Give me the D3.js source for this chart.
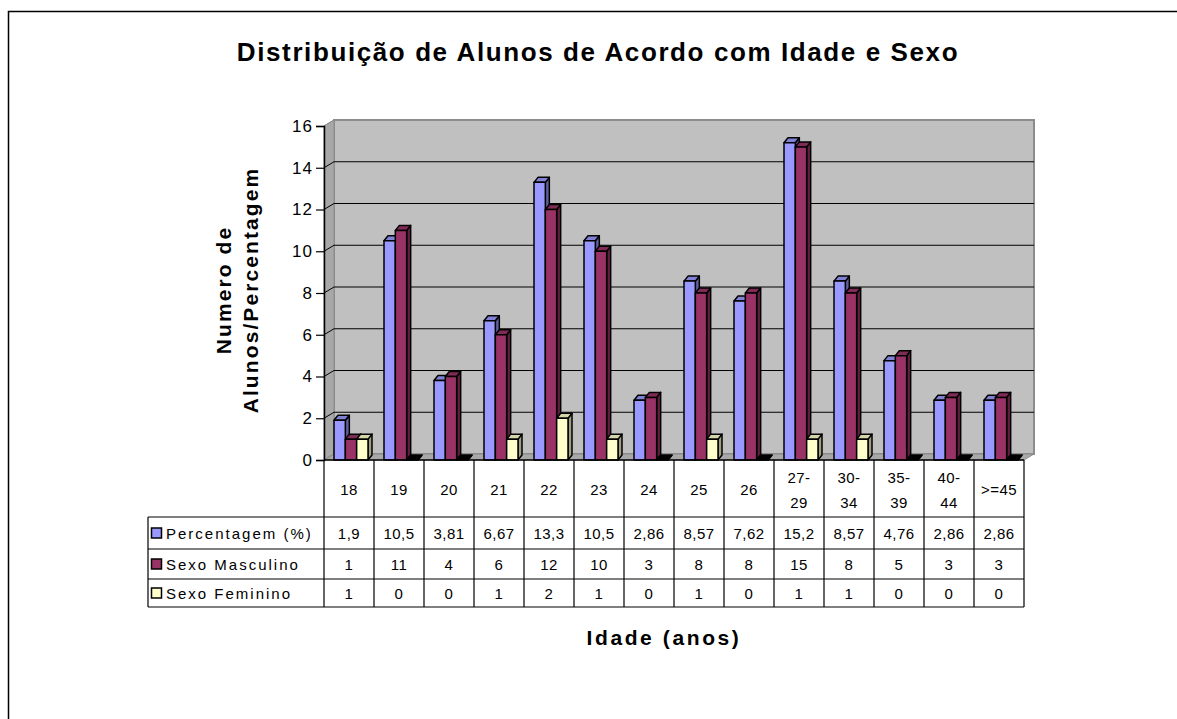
<!DOCTYPE html>
<html>
<head>
<meta charset="utf-8">
<script src="https://cdn.jsdelivr.net/npm/d3@7"></script>
<style>
  body { margin: 0; background: #fff; }
  svg { display: block; font-family: "Liberation Sans", Arial, sans-serif; }
</style>
</head>
<body>
<div id="chart"></div>
<script>
// data
var categories = ["18","19","20","21","22","23","24","25","26","27-29","30-34","35-39","40-44",">=45"];
var percentagem = [1.9,10.5,3.81,6.67,13.3,10.5,2.86,8.57,7.62,15.2,8.57,4.76,2.86,2.86];
var masculino = [1,11,4,6,12,10,3,8,8,15,8,5,3,3];
var feminino = [1,0,0,1,2,1,0,1,0,1,1,0,0,0];
var yTicks = [0,2,4,6,8,10,12,14,16];

var series = [
  {name: "Percentagem (%)", values: percentagem, color: "#9999FF"},
  {name: "Sexo Masculino", values: masculino, color: "#993366"},
  {name: "Sexo Feminino", values: feminino, color: "#FFFFCC"}
];

var W = 1177, H = 719;
var dx = 10, dy = -6;     // depth of the plot box
var bdx = 4, bdy = -5;    // depth of a bar

var svg = d3.select("#chart").append("svg")
    .attr("width", W)
    .attr("height", H);

// outer chart border
svg.append("rect")
    .attr("x", 8.5).attr("y", 11.5)
    .attr("width", 1300).attr("height", 900)
    .attr("fill", "#fff")
    .attr("stroke", "#000").attr("stroke-width", 1.5);

var x0 = d3.scaleBand().domain(categories).range([324, 1024]);
var x1 = d3.scaleBand().domain(series.map(function(s) { return s.name; })).range([10, 44]);
var y = d3.scaleLinear().domain([0, 16]).range([460, 126]);

var pLeft = x0.range()[0], pRight = x0.range()[1];
var pTop = y(16), pBase = y(0);

// back wall
svg.append("rect")
    .attr("x", pLeft + dx).attr("y", pTop + dy)
    .attr("width", pRight - pLeft).attr("height", pBase - pTop)
    .attr("fill", "#C0C0C0")
    .attr("stroke", "#8C8C8C").attr("stroke-width", 2);

// left side wall
svg.append("path")
    .attr("d", "M" + pLeft + "," + pBase + "L" + pLeft + "," + pTop +
               "L" + (pLeft + dx) + "," + (pTop + dy) + "L" + (pLeft + dx) + "," + (pBase + dy) + "Z")
    .attr("fill", "#A8A8A8")
    .attr("stroke", "#8C8C8C").attr("stroke-width", 1);

// floor
svg.append("path")
    .attr("d", "M" + pLeft + "," + pBase + "L" + pRight + "," + pBase +
               "L" + (pRight + dx) + "," + (pBase + dy) + "L" + (pLeft + dx) + "," + (pBase + dy) + "Z")
    .attr("fill", "#A8A8A8")
    .attr("stroke", "#8C8C8C").attr("stroke-width", 1);

// gridlines on back wall + diagonals on side wall
var grid = svg.append("g");
yTicks.filter(function(t) { return t > 0 && t < 16; }).forEach(function(t) {
  grid.append("line")
      .attr("x1", pLeft + dx).attr("x2", pRight + dx)
      .attr("y1", y(t) + dy).attr("y2", y(t) + dy)
      .attr("stroke", "#000").attr("stroke-width", 1.2);
});
yTicks.forEach(function(t) {
  grid.append("line")
      .attr("x1", pLeft).attr("x2", pLeft + dx)
      .attr("y1", y(t)).attr("y2", y(t) + dy)
      .attr("stroke", t == 0 || t == 16 ? "#8C8C8C" : "#000").attr("stroke-width", 1);
});

// 3D bars
var bars = svg.append("g");
series.forEach(function(s) {
  var c = d3.color(s.color);
  var topCol = d3.color(s.color).darker(0.5);
  var sideCol = d3.color(s.color).darker(1.3);
  var bw = x1.bandwidth();
  categories.forEach(function(cat, i) {
    var v = s.values[i];
    var bx = x0(cat) + x1(s.name);
    var by = y(v);
    var g = bars.append("g")
        .attr("stroke", "#000").attr("stroke-width", 1.5).attr("stroke-linejoin", "round");
    // side
    g.append("path")
        .attr("d", "M" + (bx + bw) + "," + pBase + "L" + (bx + bw) + "," + by +
                   "L" + (bx + bw + bdx) + "," + (by + bdy) + "L" + (bx + bw + bdx) + "," + (pBase + bdy) + "Z")
        .attr("fill", v == 0 ? "#000" : sideCol);
    // top
    g.append("path")
        .attr("d", "M" + bx + "," + by + "L" + (bx + bw) + "," + by +
                   "L" + (bx + bw + bdx) + "," + (by + bdy) + "L" + (bx + bdx) + "," + (by + bdy) + "Z")
        .attr("fill", v == 0 ? "#000" : topCol);
    // front
    if (v > 0) {
      g.append("rect")
          .attr("x", bx).attr("y", by)
          .attr("width", bw).attr("height", pBase - by)
          .attr("fill", c);
    }
  });
});

// y axis
var yAxis = svg.append("g")
    .attr("transform", "translate(" + pLeft + ",0)")
    .call(d3.axisLeft(y).tickValues(yTicks).tickSize(8).tickPadding(3));
yAxis.select(".domain").attr("stroke", "#000").attr("stroke-width", 1.5);
yAxis.selectAll(".tick line").attr("stroke", "#000").attr("stroke-width", 1.2);
yAxis.selectAll(".tick text")
    .attr("font-family", "Liberation Sans, Arial, sans-serif")
    .style("font-size", "17px").style("letter-spacing", "1px")
    .attr("fill", "#000");

// data table
var table = svg.append("g").attr("font-size", "15px").attr("fill", "#000");
var rowY = [460, 517, 549, 579, 607];
var legLeft = 148;

// header row: categories
categories.forEach(function(cat, i) {
  var cx = x0(cat) + x0.bandwidth() / 2;
  var parts = cat.indexOf("-") > 0 ? [cat.split("-")[0] + "-", cat.split("-")[1]] : [cat];
  parts.forEach(function(p, k) {
    table.append("text")
        .attr("x", cx)
        .attr("y", parts.length == 1 ? 495 : 483 + k * 25)
        .attr("text-anchor", "middle")
        .style("letter-spacing", "0.5px")
        .text(p);
  });
});

// value rows
series.forEach(function(s, r) {
  var cy = (rowY[r + 1] + rowY[r + 2]) / 2 + 5.5;
  s.values.forEach(function(v, i) {
    table.append("text")
        .attr("x", x0(categories[i]) + x0.bandwidth() / 2)
        .attr("y", cy)
        .attr("text-anchor", "middle")
        .style("letter-spacing", "0.5px")
        .text(String(v).replace(".", ","));
  });
  table.append("rect")
      .attr("x", legLeft + 3.5).attr("y", cy - 10.5)
      .attr("width", 10).attr("height", 10)
      .attr("fill", s.color).attr("stroke", "#000").attr("stroke-width", 1.5);
  table.append("text")
      .attr("x", legLeft + 18).attr("y", cy)
      .style("letter-spacing", "2px")
      .text(s.name);
});

// table grid lines
var lines = svg.append("g").attr("stroke", "#000").attr("stroke-width", 1.2);
x0.domain().concat(["end"]).forEach(function(cat, i) {
  var lx = i < categories.length ? x0(cat) : pRight;
  lines.append("line").attr("x1", lx).attr("x2", lx).attr("y1", rowY[0]).attr("y2", rowY[4]);
});
lines.append("line").attr("x1", legLeft).attr("x2", legLeft).attr("y1", rowY[1]).attr("y2", rowY[4]);
rowY.slice(1).forEach(function(ry) {
  lines.append("line").attr("x1", legLeft).attr("x2", pRight).attr("y1", ry).attr("y2", ry);
});

// x axis line at the base
svg.append("line")
    .attr("x1", pLeft).attr("x2", pRight)
    .attr("y1", pBase).attr("y2", pBase)
    .attr("stroke", "#000").attr("stroke-width", 1.5);

// titles
svg.append("text")
    .attr("x", 598).attr("y", 61)
    .attr("text-anchor", "middle")
    .style("font-size", "26px").style("font-weight", "bold").style("letter-spacing", "1.6px")
    .text("Distribuição de Alunos de Acordo com Idade e Sexo");

var yt = svg.append("text")
    .attr("transform", "translate(236,290) rotate(-90)")
    .attr("text-anchor", "middle")
    .style("font-size", "21px").style("font-weight", "bold").style("letter-spacing", "2.1px");
yt.append("tspan").attr("x", 0).attr("dy", "-0.25em").text("Numero de");
yt.append("tspan").attr("x", 0).attr("dy", "1.3em").text("Alunos/Percentagem");

svg.append("text")
    .attr("x", 664).attr("y", 645)
    .attr("text-anchor", "middle")
    .style("font-size", "21px").style("font-weight", "bold").style("letter-spacing", "2.6px")
    .text("Idade (anos)");
</script>
</body>
</html>
